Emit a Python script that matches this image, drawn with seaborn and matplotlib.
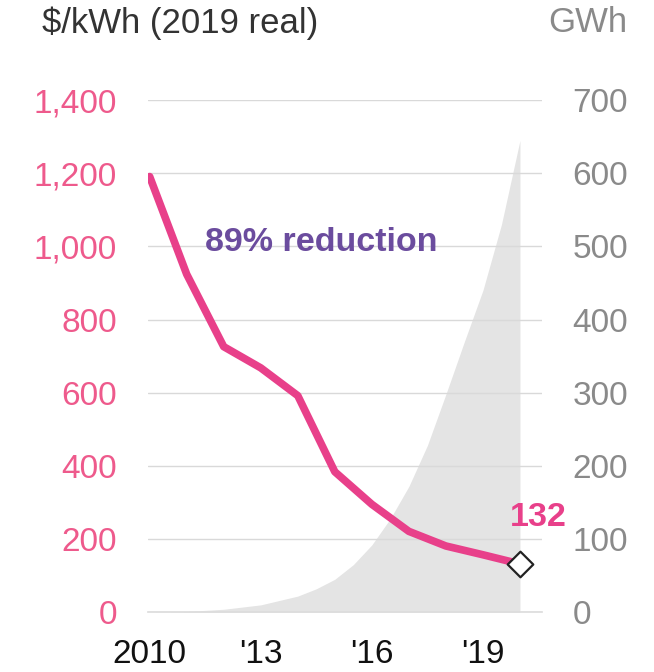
import matplotlib
matplotlib.use("Agg")
import matplotlib.pyplot as plt
import seaborn as sns
import pandas as pd

## Data
years = [2010, 2011, 2012, 2013, 2014, 2015, 2016, 2017, 2018, 2019, 2020]
price = [1191, 924, 726, 668, 592, 384, 295, 221, 181, 157, 132]

gwh_x = [2010, 2011, 2012, 2013, 2014, 2014.5, 2015, 2015.5, 2016, 2016.5, 2017,
         2017.5, 2018, 2018.5, 2019, 2019.5, 2020]
gwh = [0, 1, 4, 10, 22, 32, 45, 65, 92, 128, 172, 228, 298, 370, 440, 530, 645]

left_ticks = [0, 200, 400, 600, 800, 1000, 1200, 1400]
right_ticks = [0, 100, 200, 300, 400, 500, 600, 700]
xtick_pos = [2010, 2013, 2016, 2019]
xtick_lab = ["2010", "'13", "'16", "'19"]

pink = "#e8408a"
purple = "#6b4c9e"
grey_txt = "#8a8a8a"

sns.set_theme(style="white")
plt.rcParams["font.family"] = ["Liberation Sans", "DejaVu Sans"]

fig = plt.figure(figsize=(6.54, 6.72), dpi=100)
ax = fig.add_axes([0.226, 0.089, 0.603, 0.762])
ax2 = ax.twinx()
ax.set_zorder(ax2.get_zorder() + 1)
ax.patch.set_visible(False)

## Cumulative GWh area (right axis)
ax2.fill_between(gwh_x, 0, gwh, color="#e4e4e4", lw=0)
ax2.set_ylim(0, 700)
ax2.set_yticks(right_ticks)
ax2.set_yticklabels([f"{v}" for v in right_ticks], color=grey_txt, fontsize=24)
ax2.tick_params(axis="y", length=0, pad=22)

## Price line (left axis)
df = pd.DataFrame({"year": years, "price": price})
sns.lineplot(data=df, x="year", y="price", ax=ax, color=pink, lw=5.5)
ax.scatter([years[-1]], [price[-1]], marker="D", s=170, facecolor="white",
           edgecolor="#222222", linewidth=1.6, zorder=5)

ax.set_xlim(2009.95, 2020.6)
ax.set_ylim(0, 1400)
ax.set_yticks(left_ticks)
ax.set_yticklabels([f"{v:,}" for v in left_ticks], color="#ee5a8c", fontsize=24)
ax.set_xticks(years, minor=True)
ax.set_xticks(xtick_pos)
ax.set_xticklabels(xtick_lab, fontsize=24, color="#111111")
ax.tick_params(axis="y", length=0, pad=22)
ax.tick_params(axis="x", which="both", direction="out", length=5, color="#dddddd", width=1)
ax.tick_params(axis="x", which="major", pad=14)
ax.grid(axis="y", color="#d9d9d9", lw=1)
ax.set_xlabel("")
ax.set_ylabel("")

for a in (ax, ax2):
    for s in ["top", "left", "right", "bottom"]:
        a.spines[s].set_visible(False)
ax.spines["bottom"].set_visible(True)
ax.spines["bottom"].set_color("#dddddd")

## Annotations
fig.text(0.064, 0.966, "$/kWh (2019 real)", fontsize=25, color="#333333", va="center")
fig.text(0.960, 0.966, "GWh", fontsize=25, color=grey_txt, va="center", ha="right")
ax.text(2011.49, 1010, "89% reduction", fontsize=24.5, color=purple, fontweight="bold",
        va="center")
ax.text(2020.49, 260, "132", fontsize=24.5, color=pink, fontweight="bold",
        ha="center", va="center")

fig.savefig("out.png", dpi=100, facecolor="white")
